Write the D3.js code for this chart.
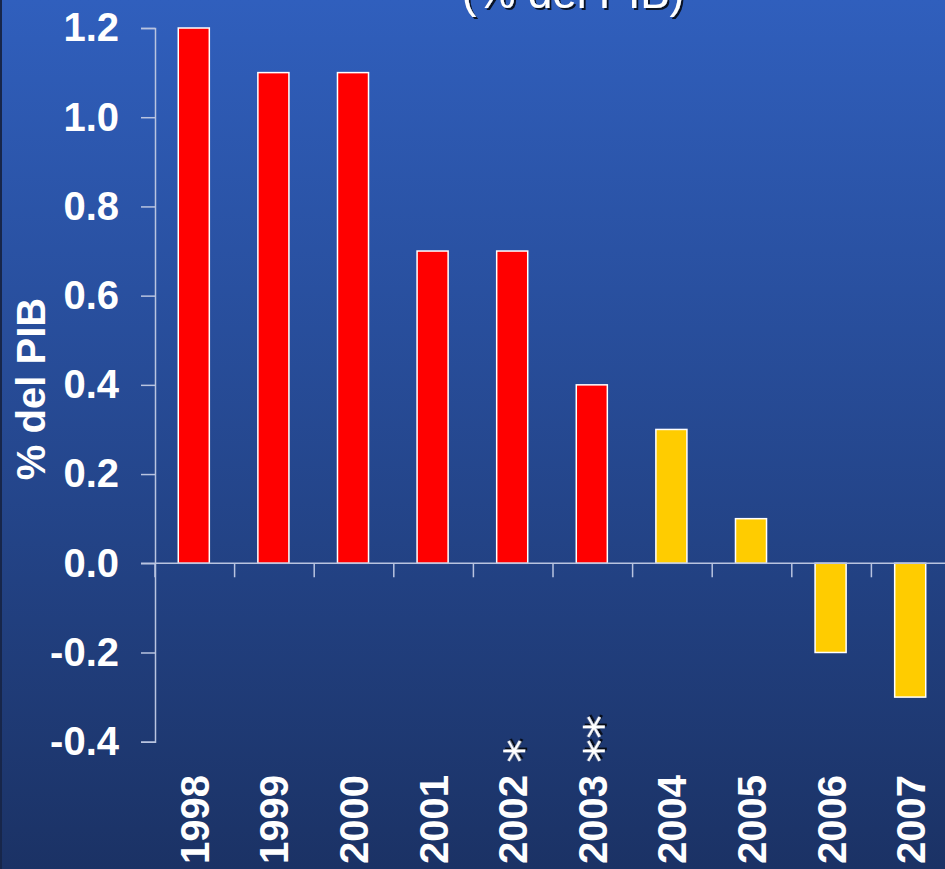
<!DOCTYPE html>
<html>
<head>
<meta charset="utf-8">
<script src="https://cdn.jsdelivr.net/npm/d3@7"></script>
<style>
  html, body { margin: 0; padding: 0; background: #1c3366; }
  svg { display: block; }
</style>
</head>
<body>
<script>
// Fiscal balance by year, % of GDP
const years   = ["1998", "1999", "2000", "2001", "2002", "2003", "2004", "2005", "2006", "2007"];
const values  = [1.2, 1.1, 1.1, 0.7, 0.7, 0.4, 0.3, 0.1, -0.2, -0.3];
const kinds   = ["obs", "obs", "obs", "obs", "obs", "obs", "proj", "proj", "proj", "proj"];
const notes   = ["", "", "", "", "*", "**", "", "", "", ""];
const yTicks  = [-0.4, -0.2, 0.0, 0.2, 0.4, 0.6, 0.8, 1.0, 1.2];
const titleText = "(% del PIB)";
const yLabel    = "% del PIB";

const W = 945, H = 869;
const colors = { obs: "#ff0000", proj: "#ffcc00" };

const svg = d3.select("body").append("svg")
  .attr("width", W).attr("height", H)
  .style("font-family", "'Liberation Sans', Arial, sans-serif");

const defs = svg.append("defs");
const grad = defs.append("linearGradient")
  .attr("id", "bg").attr("x1", 0).attr("y1", 0).attr("x2", 0).attr("y2", 1);
grad.append("stop").attr("offset", "0%").attr("stop-color", "#305fbd");
grad.append("stop").attr("offset", "100%").attr("stop-color", "#1b3265");

const shadow = defs.append("filter").attr("id", "shadow")
  .attr("x", "-20%").attr("y", "-20%").attr("width", "140%").attr("height", "140%");
shadow.append("feDropShadow")
  .attr("dx", 2).attr("dy", 2).attr("stdDeviation", 0.6)
  .attr("flood-color", "#000").attr("flood-opacity", 0.8);

svg.append("rect").attr("width", W).attr("height", H).attr("fill", "url(#bg)");
svg.append("rect").attr("width", 2).attr("height", H).attr("fill", "#17264a");

// Scales
const x = d3.scaleBand().domain(years).range([155, 951]).padding(0);
const y = d3.scaleLinear().domain([-0.4, 1.2]).range([741.7, 28]);
const barW = x.bandwidth() * 0.39;

// Title (second line of the heading, mostly above the frame)
svg.append("text")
  .attr("x", 573).attr("y", 8)
  .attr("text-anchor", "middle")
  .attr("fill", "#ffffff")
  .attr("font-size", 44)
  .attr("filter", "url(#shadow)")
  .text(titleText);

// Y axis
const axisColor = "#b9c4e0";
const yAxis = svg.append("g")
  .attr("transform", "translate(155,0)")
  .call(d3.axisLeft(y).tickValues(yTicks).tickSize(14).tickPadding(22)
    .tickFormat(d => d.toFixed(1)));
yAxis.select(".domain").attr("stroke", axisColor).attr("stroke-width", 1.5);
yAxis.selectAll(".tick line").attr("stroke", axisColor).attr("stroke-width", 1.5);
yAxis.selectAll(".tick text")
  .attr("fill", "#ffffff")
  .attr("font-size", 40)
  .attr("font-weight", "bold")
  .attr("font-family", "'Liberation Sans', Arial, sans-serif");

// Y axis title
svg.append("text")
  .attr("transform", `translate(45,389) rotate(-90)`)
  .attr("text-anchor", "middle")
  .attr("fill", "#ffffff")
  .attr("font-size", 40)
  .attr("font-weight", "bold")
  .text(yLabel);

// Bars
svg.append("g").selectAll("rect")
  .data(years)
  .join("rect")
  .attr("x", (d) => x(d) + (x.bandwidth() - barW) / 2 - 1)
  .attr("y", (d, i) => y(Math.max(0, values[i])))
  .attr("width", barW)
  .attr("height", (d, i) => Math.abs(y(values[i]) - y(0)))
  .attr("fill", (d, i) => colors[kinds[i]])
  .attr("stroke", "#ffffff")
  .attr("stroke-width", 1.5);

// X axis line and category boundary ticks
const x0 = y(0);
svg.append("line")
  .attr("x1", 141).attr("x2", W).attr("y1", x0).attr("y2", x0)
  .attr("stroke", axisColor).attr("stroke-width", 1.5);
svg.append("g").selectAll("line")
  .data(years)
  .join("line")
  .attr("x1", d => x(d)).attr("x2", d => x(d))
  .attr("y1", x0).attr("y2", x0 + 14)
  .attr("stroke", axisColor).attr("stroke-width", 1.5);

// Category labels, rotated
svg.append("g").selectAll("text")
  .data(years)
  .join("text")
  .attr("transform", d => `translate(${x(d) + x.bandwidth() / 2 + 14},775) rotate(-90)`)
  .attr("text-anchor", "end")
  .attr("fill", "#ffffff")
  .attr("font-size", 40)
  .attr("font-weight", "bold")
  .text(d => d);

// Footnote markers beside the year labels
svg.append("g").selectAll("text")
  .data(years.filter((d, i) => notes[i]))
  .join("text")
  .attr("transform", d => `translate(${x(d) + x.bandwidth() / 2 + 26},763) rotate(-90)`)
  .attr("text-anchor", "start")
  .attr("fill", "#ffffff")
  .attr("font-size", 48)
  .attr("font-family", "'DejaVu Sans', sans-serif")
  .attr("filter", "url(#shadow)")
  .text(d => notes[years.indexOf(d)]);
</script>
</body>
</html>
